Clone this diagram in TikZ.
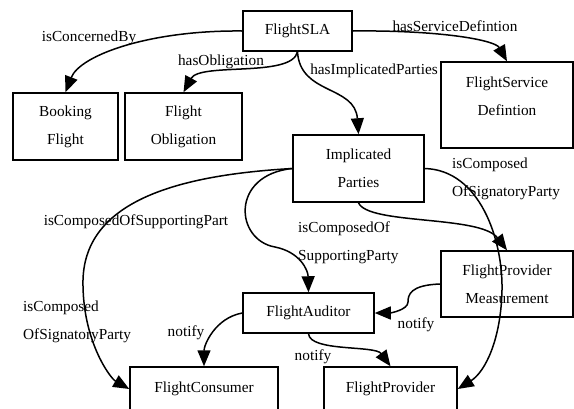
\documentclass[tikz,border=0pt]{standalone}
\usepackage{fontspec}
\setmainfont{Liberation Serif}
\usetikzlibrary{positioning,calc,arrows,arrows.meta}
\tikzset{font=\fontsize{15.3}{28}\selectfont}

\begin{document}
\begin{tikzpicture}[x=1pt, y=-1pt]
	\clip (0,0) rectangle (574,408);
	\begin{scope}
		\tikzstyle{every node}=[align=center, inner sep=0pt]
		\tikzstyle{box}=[draw, line width=1.5pt]
		\tikzstyle{rel}=[line width=1.5pt, -{Triangle[length=16pt, width=13pt]}]
		\tikzstyle{lbl}=[align=left, anchor=west]

		\node[box, minimum width=109, minimum height=40] (sla) at (297.5, 31) {FlightSLA};
		\node[box, minimum width=105, minimum height=67] (booking) at (65.5, 126.5) {Booking\\Flight};
		\node[box, minimum width=117, minimum height=67] (oblig) at (183.5, 126.5) {Flight\\Obligation};
		\node[box, minimum width=132, minimum height=86, text depth=17pt] (servdef) at (507, 105) {FlightService\\Defintion};
		\node[box, minimum width=131, minimum height=67] (implic) at (358.5, 168.5) {Implicated\\Parties};
		\node[box, minimum width=132, minimum height=66] (fpm) at (507, 284) {FlightProvider\\Measurement};
		\node[box, minimum width=131, minimum height=40] (auditor) at (308.5, 313) {FlightAuditor};
		\node[box, minimum width=148, minimum height=44] (consumer) at (204, 389) {FlightConsumer};
		\node[box, minimum width=133, minimum height=44] (provider) at (390.5, 389) {FlightProvider};

		\draw[rel] (sla.west) .. controls (150,30) and (80,55) .. (booking.north);
		\draw[rel] (sla.south) .. controls (292,78) and (200,62) .. (oblig.north);
		\draw[rel] (sla.east) .. controls (440,30) and (495,40) .. (servdef.north);
		\draw[rel] (sla.south) .. controls (300,95) and (355,85) .. (implic.north);
		\draw[rel] (implic.west) .. controls (180,175) and (85,200) .. (83,280) .. controls (82,340) and (110,378) .. (consumer.west);
		\draw[rel] (implic.west) .. controls (230,175) and (235,240) .. (275,247) .. controls (300,252) and (308,270) .. (auditor.north);
		\draw[rel] (implic.south) .. controls (368,225) and (480,215) .. (fpm.north);
		\draw[rel] (implic.east) .. controls (480,170) and (503,240) .. (502,290) .. controls (501,340) and (485,372) .. (provider.east);
		\draw[rel] (fpm.west) .. controls (410,285) and (408,295) .. (408,302) .. controls (408,310) and (390,313) .. (auditor.east);
		\draw[rel] (auditor.west) .. controls (215,318) and (204,345) .. (consumer.north);
		\draw[rel] (auditor.south) .. controls (310,352) and (375,345) .. (provider.north);

		\node (concerned) at (89, 38) {isConcernedBy};
		\node (hasobl) at (221, 62) {hasObligation};
		\node (hasserv) at (455, 26) {hasServiceDefintion};
		\node (hasimpl) at (374, 71) {hasImplicatedParties};
		\node[lbl] (signright) at (452, 179) {isComposed\\OfSignatoryParty};
		\node (suppart) at (136, 222) {isComposedOfSupportingPart};
		\node[lbl] (supparty) at (298, 243) {isComposedOf\\SupportingParty};
		\node[lbl] (signleft) at (23, 322) {isComposed\\OfSignatoryParty};
		\node (notifya) at (186, 333) {notify};
		\node (notifyb) at (416, 325) {notify};
		\node (notifyc) at (313, 357) {notify};
	\end{scope}
\end{tikzpicture}
\end{document}
